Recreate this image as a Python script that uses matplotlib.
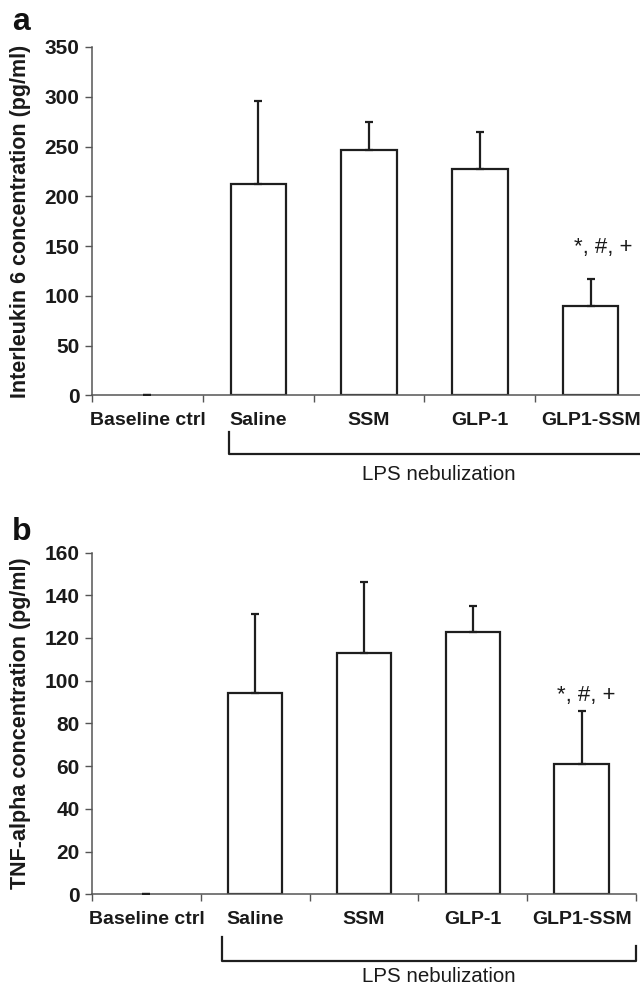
import matplotlib
matplotlib.use("Agg")
import matplotlib.pyplot as plt
import numpy as np

plt.rcParams['font.family'] = ['Liberation Sans', 'DejaVu Sans']

categories = ["Baseline ctrl", "Saline", "SSM", "GLP-1", "GLP1-SSM"]

il6_mean = [0, 212, 246, 227, 90]
il6_err = [0, 84, 29, 38, 27]

tnf_mean = [0, 94, 113, 123, 61]
tnf_err = [0, 37, 33, 12, 25]

sig_label = "*, #, +"
group_label = "LPS nebulization"

W, H = 640, 988
fig = plt.figure(figsize=(W / 100, H / 100), dpi=100)

LINE = "#1e1e1e"
AX = "#555555"
TXT = "#1a1a1a"


def panel(rect, means, errs, ylim, yticks, ylabel, letter, letter_y,
          sig_xy, bracket):
    ax = fig.add_axes(rect)
    x = np.arange(len(categories))
    means = np.asarray(means, dtype=float)
    errs = np.asarray(errs, dtype=float)
    edge = [LINE if m > 0 else "none" for m in means]
    ax.bar(x, means, width=0.5, color="white", edgecolor=edge, linewidth=1.6,
           zorder=2)
    ax.errorbar(x, means, yerr=[np.zeros(len(errs)), errs], fmt="none",
                ecolor=LINE, elinewidth=1.6, capsize=2.8, capthick=1.6,
                zorder=3)
    ax.set_xlim(-0.5, len(categories) - 0.5)
    ax.set_ylim(*ylim)
    ax.set_yticks(yticks)
    ax.set_yticklabels([str(v) for v in yticks], fontsize=15,
                       fontweight="bold", color=TXT)
    ax.set_xticks(x)
    ax.set_xticklabels(categories, fontsize=14, fontweight="bold", color=TXT)
    ax.set_xticks(np.arange(len(categories) + 1) - 0.5, minor=True)
    ax.tick_params(axis="x", which="major", length=0, pad=12)
    ax.tick_params(axis="x", which="minor", length=5, width=1, color=AX,
                   direction="out")
    ax.tick_params(axis="y", length=5, width=1, color=AX, pad=4)
    for s in ("top", "right"):
        ax.spines[s].set_visible(False)
    for s in ("left", "bottom"):
        ax.spines[s].set_color(AX)
        ax.spines[s].set_linewidth(1.1)
    ax.set_facecolor("none")
    ax.set_ylabel(ylabel, fontsize=15.5, fontweight="bold", color=TXT)
    ax.yaxis.label.set_va("center")
    ax.yaxis.set_label_coords((21 - rect[0] * W) / (rect[2] * W), 0.5)
    fig.text(12 / W, 1 - letter_y / H, letter, fontsize=23, fontweight="bold",
             ha="left", va="baseline", color="#111111")
    fig.text(sig_xy[0], sig_xy[1], sig_label, fontsize=16, ha="center",
             va="center", color=TXT)
    (xl, yl_top, xr, yr_top, yb) = bracket
    fx = lambda p: p / W
    fy = lambda p: 1 - p / H
    fig.add_artist(plt.Line2D([fx(xl), fx(xl), fx(xr), fx(xr)],
                              [fy(yl_top), fy(yb), fy(yb), fy(yr_top)],
                              color=LINE, linewidth=1.6,
                              transform=fig.transFigure))
    return ax


# panel a: axis x 92->646, y 395.3->47
ra = [92 / W, 1 - 395.3 / H, 554 / W, (395.3 - 47) / H]
panel(ra, il6_mean, il6_err, (0, 350), list(range(0, 351, 50)),
      "Interleukin 6 concentration (pg/ml)", "a", 30,
      (603 / W, 1 - 248 / H), (228.7, 432, 660, 432, 454.3))
fig.text(439 / W, 1 - 474 / H, group_label, fontsize=14.8, ha="center",
         va="center", color=TXT)

# panel b: axis x 92->636, y 894.3->552.5
rb = [92 / W, 1 - 894.3 / H, 544 / W, (894.3 - 552.5) / H]
panel(rb, tnf_mean, tnf_err, (0, 160), list(range(0, 161, 20)),
      "TNF-alpha concentration (pg/ml)", "b", 540,
      (586 / W, 1 - 695 / H), (221.7, 937, 636, 946, 960.7))
fig.text(439 / W, 1 - 976.7 / H, group_label, fontsize=14.8, ha="center",
         va="center", color=TXT)

fig.savefig("out.png", dpi=100, facecolor="white")
